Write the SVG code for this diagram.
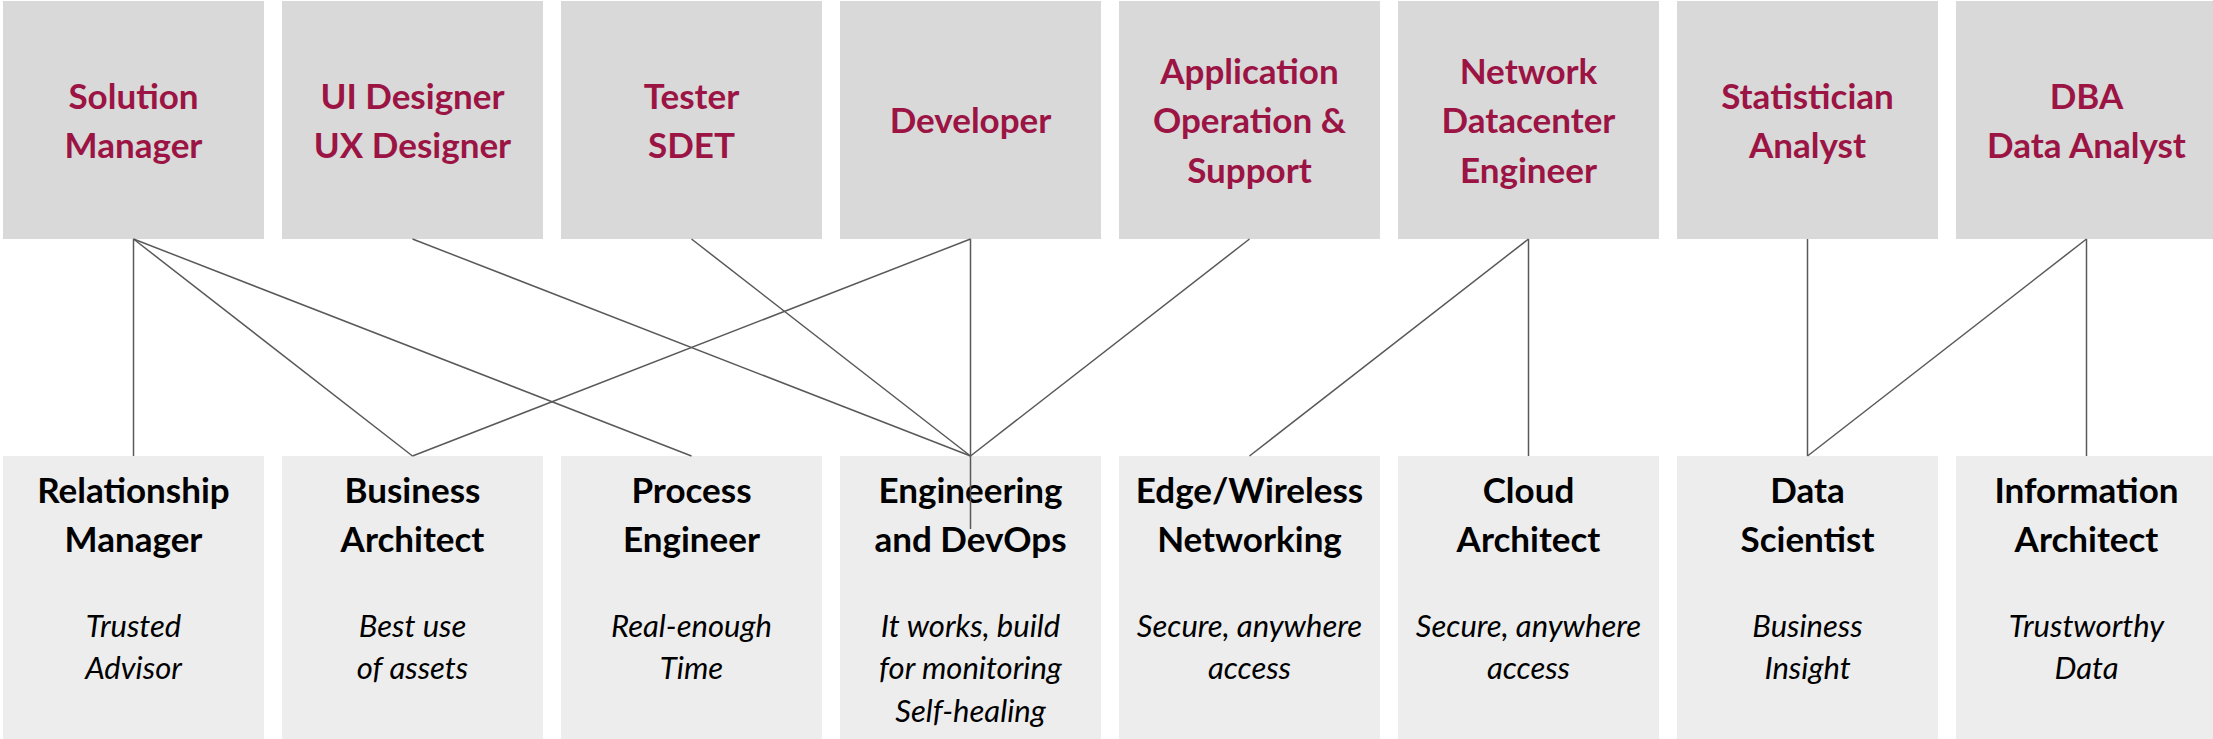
<svg xmlns="http://www.w3.org/2000/svg" width="2213" height="739" viewBox="0 0 2213 739">
<style>
.top{fill:#D9D9D9}
.bot{fill:#EDEDED}
.tt{font-family:Lato,"Liberation Sans",sans-serif;font-weight:bold;font-size:35px;fill:#9B1444;text-anchor:middle}
.bt{font-family:Lato,"Liberation Sans",sans-serif;font-weight:bold;font-size:35px;fill:#000;text-anchor:middle}
.it{font-family:Lato,"Liberation Sans",sans-serif;font-style:italic;font-size:31px;fill:#000;text-anchor:middle}
.ln{stroke:#595959;stroke-width:1.5;fill:none}
</style>
<rect width="2213" height="739" fill="#fff"/>
<g id="top-solution-manager"><rect class="top" x="3" y="1" width="261" height="238"/><text class="tt" x="133.5" y="109">Solution</text><text class="tt" x="133.5" y="158">Manager</text></g>
<g id="top-ui-ux-designer"><rect class="top" x="282" y="1" width="261" height="238"/><text class="tt" x="412.5" y="109">UI Designer</text><text class="tt" x="412.5" y="158">UX Designer</text></g>
<g id="top-tester"><rect class="top" x="561" y="1" width="261" height="238"/><text class="tt" x="691.5" y="109">Tester</text><text class="tt" x="691.5" y="158">SDET</text></g>
<g id="top-developer"><rect class="top" x="840" y="1" width="261" height="238"/><text class="tt" x="970.5" y="133">Developer</text></g>
<g id="top-app-ops"><rect class="top" x="1119" y="1" width="261" height="238"/><text class="tt" x="1249.5" y="84">Application</text><text class="tt" x="1249.5" y="133">Operation &amp;</text><text class="tt" x="1249.5" y="183">Support</text></g>
<g id="top-network"><rect class="top" x="1398" y="1" width="261" height="238"/><text class="tt" x="1528.5" y="84">Network</text><text class="tt" x="1528.5" y="133">Datacenter</text><text class="tt" x="1528.5" y="183">Engineer</text></g>
<g id="top-statistician"><rect class="top" x="1677" y="1" width="261" height="238"/><text class="tt" x="1807.5" y="109">Statistician</text><text class="tt" x="1807.5" y="158">Analyst</text></g>
<g id="top-dba"><rect class="top" x="1956" y="1" width="261" height="238"/><text class="tt" x="2086.5" y="109">DBA</text><text class="tt" x="2086.5" y="158">Data Analyst</text></g>

<g id="bot-relationship-manager"><rect class="bot" x="3" y="456" width="261" height="283"/><text class="bt" x="133.5" y="503">Relationship</text><text class="bt" x="133.5" y="552">Manager</text><text class="it" x="133.5" y="637">Trusted</text><text class="it" x="133.5" y="679">Advisor</text></g>
<g id="bot-business-architect"><rect class="bot" x="282" y="456" width="261" height="283"/><text class="bt" x="412.5" y="503">Business</text><text class="bt" x="412.5" y="552">Architect</text><text class="it" x="412.5" y="637">Best use</text><text class="it" x="412.5" y="679">of assets</text></g>
<g id="bot-process-engineer"><rect class="bot" x="561" y="456" width="261" height="283"/><text class="bt" x="691.5" y="503">Process</text><text class="bt" x="691.5" y="552">Engineer</text><text class="it" x="691.5" y="637">Real-enough</text><text class="it" x="691.5" y="679">Time</text></g>
<g id="bot-engineering-devops"><rect class="bot" x="840" y="456" width="261" height="283"/><text class="bt" x="970.5" y="503">Engineering</text><text class="bt" x="970.5" y="552">and DevOps</text><text class="it" x="970.5" y="637">It works, build</text><text class="it" x="970.5" y="679">for monitoring</text><text class="it" x="970.5" y="722">Self-healing</text></g>
<g id="bot-edge-wireless"><rect class="bot" x="1119" y="456" width="261" height="283"/><text class="bt" x="1249.5" y="503">Edge/Wireless</text><text class="bt" x="1249.5" y="552">Networking</text><text class="it" x="1249.5" y="637">Secure, anywhere</text><text class="it" x="1249.5" y="679">access</text></g>
<g id="bot-cloud-architect"><rect class="bot" x="1398" y="456" width="261" height="283"/><text class="bt" x="1528.5" y="503">Cloud</text><text class="bt" x="1528.5" y="552">Architect</text><text class="it" x="1528.5" y="637">Secure, anywhere</text><text class="it" x="1528.5" y="679">access</text></g>
<g id="bot-data-scientist"><rect class="bot" x="1677" y="456" width="261" height="283"/><text class="bt" x="1807.5" y="503">Data</text><text class="bt" x="1807.5" y="552">Scientist</text><text class="it" x="1807.5" y="637">Business</text><text class="it" x="1807.5" y="679">Insight</text></g>
<g id="bot-information-architect"><rect class="bot" x="1956" y="456" width="261" height="283"/><text class="bt" x="2086.5" y="503">Information</text><text class="bt" x="2086.5" y="552">Architect</text><text class="it" x="2086.5" y="637">Trustworthy</text><text class="it" x="2086.5" y="679">Data</text></g>

<g id="connectors" class="ln">
<line x1="133.5" y1="239" x2="133.5" y2="456"/>
<line x1="133.5" y1="239" x2="412.5" y2="456"/>
<line x1="133.5" y1="239" x2="691.5" y2="456"/>
<line x1="412.5" y1="239" x2="970.5" y2="456"/>
<line x1="691.5" y1="239" x2="970.5" y2="456"/>
<line x1="970.5" y1="239" x2="412.5" y2="456"/>
<line x1="970.5" y1="239" x2="970.5" y2="529"/>
<line x1="1249.5" y1="239" x2="970.5" y2="456"/>
<line x1="1528.5" y1="239" x2="1249.5" y2="456"/>
<line x1="1528.5" y1="239" x2="1528.5" y2="456"/>
<line x1="1807.5" y1="239" x2="1807.5" y2="456"/>
<line x1="2086.5" y1="239" x2="1807.5" y2="456"/>
<line x1="2086.5" y1="239" x2="2086.5" y2="456"/>
</g>
</svg>
